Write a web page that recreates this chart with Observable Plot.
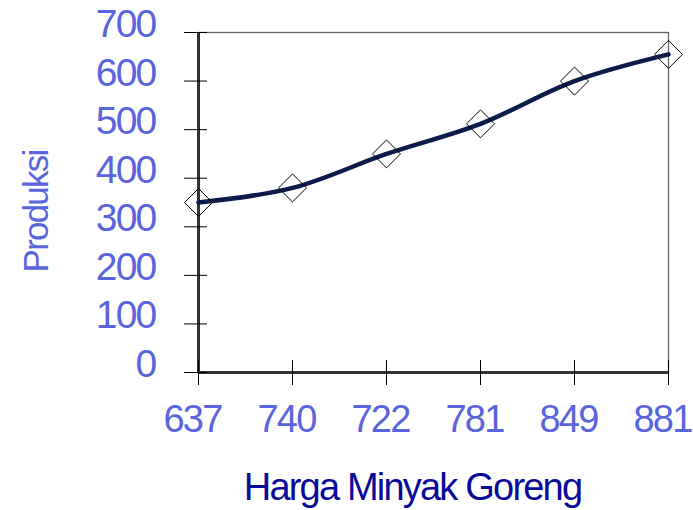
<!DOCTYPE html>
<html><head><meta charset="utf-8">
<script src="https://cdn.jsdelivr.net/npm/d3@7"></script>
<script src="https://cdn.jsdelivr.net/npm/@observablehq/plot@0.6"></script>
<style>
body{margin:0;background:#fff;}
svg text{letter-spacing:-1.8px;}
</style>
</head><body><div id="chart"></div>
<script>
const categories = ["637","740","722","781","849","881"];
const produksi = [350,380,450,512,600,655];
const yTicks = [0,100,200,300,400,500,600,700];
const xTitle = "Harga Minyak Goreng";
const yTitle = "Produksi";

const data = categories.map((c,i)=>({harga:c, produksi:produksi[i]}));
const tickColor = "#5a64dc";
const font = "'Liberation Sans', Arial, sans-serif";

const chart = Plot.plot({
  width: 693, height: 510,
  marginLeft: 198, marginRight: 25, marginTop: 32, marginBottom: 138,
  style: {background: "white", fontFamily: font, overflow: "visible"},
  x: {type: "point", domain: categories, padding: 0, label: null},
  y: {domain: [0, 700], label: null},
  marks: [
    Plot.frame({stroke: "#666", strokeWidth: 1.3}),
    Plot.ruleX([categories[0]], {stroke: "#333", strokeWidth: 3}),
    Plot.ruleY([0], {stroke: "#333", strokeWidth: 3}),
    Plot.axisY({ticks: yTicks, tickSize: 23, dx: 9, tickFormat: () => "", stroke: "black", label: null}),
    Plot.axisY({ticks: yTicks, tickSize: 0, tickPadding: 43, dy: -8, fontSize: 39, fill: tickColor, label: null}),
    Plot.axisX({tickSize: 25, dy: -12, tickFormat: () => "", stroke: "black", label: null}),
    Plot.axisX({tickSize: 0, tickPadding: 33, dx: -6, fontSize: 38, fill: tickColor, label: null}),
    Plot.line(data, {x: "harga", y: "produksi", stroke: "#0d1b4b", strokeWidth: 4.5, curve: "catmull-rom"}),
    Plot.dot(data, {x: "harga", y: "produksi", symbol: "diamond2", r: 12.6, stroke: "black", strokeWidth: 1, fill: "none"}),
    Plot.text([xTitle], {text: d => d, frameAnchor: "bottom", lineAnchor: "middle", textAnchor: "middle", dx: -21, dy: 115, fontSize: 38, fill: "#0a0a9a"}),
    Plot.text([yTitle], {text: d => d, frameAnchor: "left", lineAnchor: "middle", textAnchor: "middle", rotate: -90, dx: -162, dy: 9, fontSize: 35, fill: tickColor})
  ]
});
document.getElementById("chart").appendChild(chart);
</script>
</body></html>
